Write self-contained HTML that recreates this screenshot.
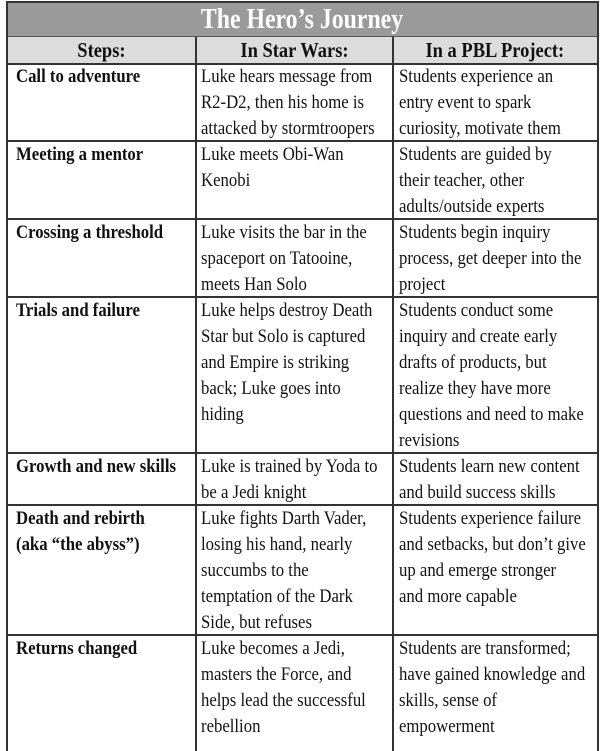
<!DOCTYPE html>
<html><head><meta charset="utf-8"><style>
body{margin:0;width:600px;height:751px;background:#fff;overflow:hidden;position:relative;font-family:"Liberation Serif",serif;color:#111}
.title{position:absolute;left:7px;top:3px;width:590px;height:33px;background:#9a9a9a;border-bottom:2px solid #555;color:#fff;font-weight:bold;font-size:28px;text-align:center;line-height:33px}
.title span,.hd span{display:inline-block;transform:scaleX(.85)}
.hd span{transform:scaleX(.88)}
.hdrow{position:absolute;left:7px;top:37px;width:590px;height:26px;background:#dcdcdc}
.hd{position:absolute;top:37px;height:26px;line-height:26px;font-weight:bold;font-size:21px;text-align:center}
.vl{position:absolute;background:#333;width:2px}
.hl{position:absolute;background:#333;height:2px;left:7px;width:592px}
.c{position:absolute;font-size:19px;line-height:26px;white-space:nowrap;transform:scaleX(.88);transform-origin:0 0}
.b{font-weight:bold}
</style></head><body>
<div class="title"><span>The Hero’s Journey</span></div>
<div class="hdrow"></div>
<div class="hd" style="left:7px;width:189px"><span>Steps:</span></div>
<div class="hd" style="left:196px;width:197px"><span>In Star Wars:</span></div>
<div class="hd" style="left:393px;width:204px"><span>In a PBL Project:</span></div>
<div class="hl" style="top:1px"></div>
<div class="hl" style="top:63px"></div>
<div class="hl" style="top:140px"></div>
<div class="hl" style="top:218px"></div>
<div class="hl" style="top:296px"></div>
<div class="hl" style="top:452px"></div>
<div class="hl" style="top:504px"></div>
<div class="hl" style="top:634px"></div>
<div class="vl" style="left:6px;top:1px;height:750px"></div>
<div class="vl" style="left:597px;top:1px;height:750px"></div>
<div class="vl" style="left:195px;top:37px;height:714px"></div>
<div class="vl" style="left:392px;top:37px;height:714px"></div>

<div class="c b" style="left:16px;top:64px">Call to adventure</div>
<div class="c" style="left:201px;top:64px">Luke hears message from<br>R2-D2, then his home is<br>attacked by stormtroopers</div>
<div class="c" style="left:399px;top:64px">Students experience an<br>entry event to spark<br>curiosity, motivate them</div>

<div class="c b" style="left:16px;top:142px">Meeting a mentor</div>
<div class="c" style="left:201px;top:142px">Luke meets Obi-Wan<br>Kenobi</div>
<div class="c" style="left:399px;top:142px">Students are guided by<br>their teacher, other<br>adults/outside experts</div>

<div class="c b" style="left:16px;top:220px">Crossing a threshold</div>
<div class="c" style="left:201px;top:220px">Luke visits the bar in the<br>spaceport on Tatooine,<br>meets Han Solo</div>
<div class="c" style="left:399px;top:220px">Students begin inquiry<br>process, get deeper into the<br>project</div>

<div class="c b" style="left:16px;top:298px">Trials and failure</div>
<div class="c" style="left:201px;top:298px">Luke helps destroy Death<br>Star but Solo is captured<br>and Empire is striking<br>back; Luke goes into<br>hiding</div>
<div class="c" style="left:399px;top:298px">Students conduct some<br>inquiry and create early<br>drafts of products, but<br>realize they have more<br>questions and need to make<br>revisions</div>

<div class="c b" style="left:16px;top:454px">Growth and new skills</div>
<div class="c" style="left:201px;top:454px">Luke is trained by Yoda to<br>be a Jedi knight</div>
<div class="c" style="left:399px;top:454px">Students learn new content<br>and build success skills</div>

<div class="c b" style="left:16px;top:506px">Death and rebirth<br>(aka “the abyss”)</div>
<div class="c" style="left:201px;top:506px">Luke fights Darth Vader,<br>losing his hand, nearly<br>succumbs to the<br>temptation of the Dark<br>Side, but refuses</div>
<div class="c" style="left:399px;top:506px">Students experience failure<br>and setbacks, but don’t give<br>up and emerge stronger<br>and more capable</div>

<div class="c b" style="left:16px;top:636px">Returns changed</div>
<div class="c" style="left:201px;top:636px">Luke becomes a Jedi,<br>masters the Force, and<br>helps lead the successful<br>rebellion</div>
<div class="c" style="left:399px;top:636px">Students are transformed;<br>have gained knowledge and<br>skills, sense of<br>empowerment</div>
</body></html>
